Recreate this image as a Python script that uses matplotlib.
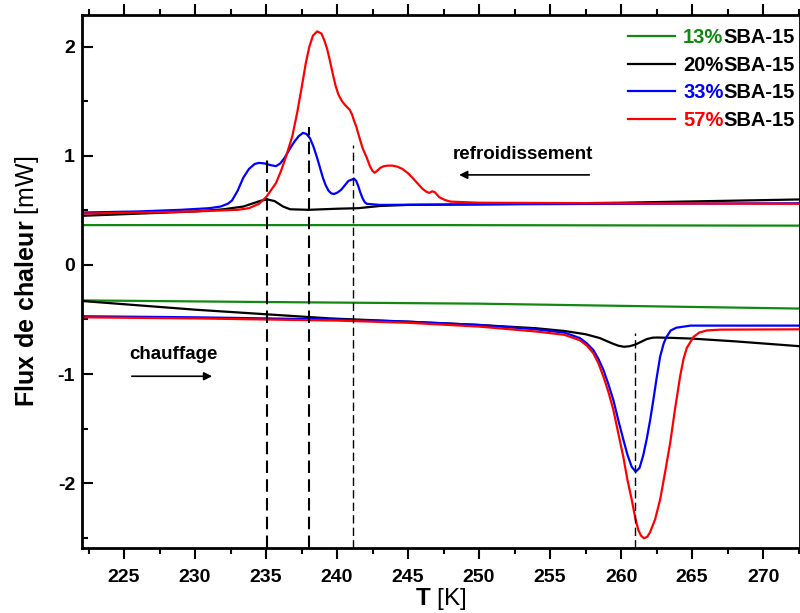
import matplotlib
matplotlib.use("Agg")
from matplotlib import pyplot as plt
from matplotlib.ticker import MultipleLocator

plt.rcParams['font.family'] = ['Liberation Sans', 'DejaVu Sans']
plt.rcParams['mathtext.fontset'] = 'custom'
plt.rcParams['mathtext.rm'] = 'Liberation Sans'
plt.rcParams['mathtext.bf'] = 'Liberation Sans:bold'
plt.rcParams['axes.unicode_minus'] = False

# cooling curves (upper branch)
t_g_cool = [222, 247, 272.6]
y_g_cool = [0.365, 0.365, 0.36]

t_k_cool = [222, 226, 230, 232, 233.4, 234.6, 235.1, 235.6, 236.2, 236.7, 238,
            240, 241.5, 243, 245, 250, 260, 272.6]
y_k_cool = [0.45, 0.47, 0.49, 0.51, 0.535, 0.587, 0.60, 0.585, 0.535, 0.51, 0.505,
            0.515, 0.52, 0.54, 0.55, 0.555, 0.57, 0.60]

t_b_cool = [222, 226, 229, 231, 231.8, 232.3, 232.6, 233.0, 233.4, 233.8, 234.2,
            234.5, 234.9, 235.3, 235.7, 236.0, 236.3, 236.7, 237.0, 237.3, 237.6,
            237.85, 238.1, 238.35, 238.6, 238.8, 239.0, 239.2, 239.4, 239.6,
            239.8, 240.05, 240.3, 240.55, 240.8, 241.0, 241.2, 241.35, 241.5,
            241.65, 241.8, 241.95, 242.1, 243, 250, 260, 272.6]
y_b_cool = [0.48, 0.49, 0.505, 0.52, 0.535, 0.56, 0.59, 0.68, 0.80, 0.88, 0.925,
            0.935, 0.93, 0.915, 0.905, 0.93, 0.98, 1.07, 1.13, 1.18, 1.21,
            1.20, 1.16, 1.08, 0.98, 0.89, 0.80, 0.73, 0.68, 0.655,
            0.65, 0.665, 0.69, 0.73, 0.77, 0.78, 0.79, 0.77, 0.72,
            0.66, 0.61, 0.575, 0.56, 0.55, 0.555, 0.56, 0.565]

t_r_cool = [222, 226, 230, 233, 233.8, 234.5, 235.0, 235.7, 236.05, 236.4, 236.85,
            237.2, 237.5, 237.8, 238.05, 238.3, 238.6, 238.9, 239.1, 239.3, 239.5,
            239.7, 239.9, 240.1, 240.35, 240.6, 240.9, 241.05, 241.2, 241.35,
            241.5, 241.8, 242.1, 242.3, 242.5, 242.65, 242.8, 243.05, 243.3,
            243.6, 243.9, 244.25, 244.6, 245.0, 245.3, 245.65, 246.0, 246.3,
            246.5, 246.7, 246.9, 247.2, 247.6, 248, 250, 260, 272.6]
y_r_cool = [0.47, 0.48, 0.49, 0.505, 0.52, 0.56, 0.62, 0.75, 0.86, 0.99, 1.18,
            1.40, 1.62, 1.85, 2.00, 2.10, 2.14, 2.12, 2.06, 1.98, 1.87,
            1.75, 1.64, 1.56, 1.50, 1.46, 1.42, 1.38, 1.32, 1.27,
            1.20, 1.07, 0.98, 0.91, 0.86, 0.845, 0.86, 0.89, 0.905,
            0.91, 0.91, 0.90, 0.88, 0.84, 0.80, 0.75, 0.70, 0.67,
            0.66, 0.675, 0.665, 0.62, 0.595, 0.58, 0.57, 0.565, 0.56]

# heating curves (lower branch)
t_g_heat = [222, 235, 250, 260, 272.6]
y_g_heat = [-0.325, -0.34, -0.355, -0.375, -0.40]

t_k_heat = [222, 230, 239.5, 245, 250, 254, 256, 257.5, 258.5, 259.3, 259.8,
            260.2, 260.6, 261, 261.4, 261.8, 262.2, 262.5, 263.5, 265, 268, 272.6]
y_k_heat = [-0.33, -0.41, -0.49, -0.52, -0.55, -0.58, -0.605, -0.635, -0.67,
            -0.715, -0.74, -0.75, -0.745, -0.73, -0.705, -0.68, -0.667, -0.665,
            -0.668, -0.675, -0.70, -0.745]

t_b_heat = [222, 230, 240, 245, 250, 254, 256, 257.1, 257.6, 258.05, 258.4,
            258.75, 259.1, 259.46, 259.8, 260.16, 260.45, 260.75, 261.03, 261.3,
            261.55, 261.8, 262.05, 262.27, 262.5, 262.75, 263.0, 263.2, 263.5,
            263.9, 264.9, 272.6]
y_b_heat = [-0.47, -0.48, -0.50, -0.52, -0.55, -0.59, -0.62, -0.67, -0.72,
            -0.78, -0.86, -0.96, -1.09, -1.24, -1.42, -1.60, -1.74, -1.85,
            -1.895, -1.86, -1.75, -1.60, -1.42, -1.24, -1.04, -0.84, -0.72,
            -0.66, -0.60, -0.575, -0.556, -0.556]

t_r_heat = [222, 230, 240, 245, 250, 254, 256, 257.1, 257.6, 258.05, 258.4,
            258.75, 259.1, 259.46, 259.8, 260.16, 260.45, 260.75, 261.0, 261.22,
            261.4, 261.62, 261.85, 262.04, 262.4, 262.75, 263.1, 263.46, 263.8,
            264.16, 264.4, 264.63, 265.1, 265.5, 266.05, 267.0, 272.6]
y_r_heat = [-0.48, -0.49, -0.51, -0.53, -0.565, -0.61, -0.64, -0.69, -0.74,
            -0.81, -0.90, -1.02, -1.16, -1.33, -1.54, -1.76, -1.97, -2.15,
            -2.32, -2.43, -2.48, -2.505, -2.49, -2.45, -2.33, -2.15, -1.90,
            -1.63, -1.32, -1.02, -0.86, -0.76, -0.66, -0.62, -0.60, -0.593, -0.59]

# transition markers: temperature, top of the dashed line
t_marks = [235.1, 238.0, 241.1, 261.0]
y_marks = [0.98, 1.26, 1.10, -0.62]
w_marks = [1.5, 1.5, 1.0, 1.0]

labels = ["13%", "20%", "33%", "57%"]
colors = ["#118811", "black", "#0000ff", "#ff0000"]

fig = plt.figure(figsize=(8, 6.13), dpi=100)
ax = fig.add_axes([0.1025, 0.106, 0.8975, 0.8695])

cool = [(t_g_cool, y_g_cool), (t_k_cool, y_k_cool), (t_b_cool, y_b_cool), (t_r_cool, y_r_cool)]
heat = [(t_g_heat, y_g_heat), (t_k_heat, y_k_heat), (t_b_heat, y_b_heat), (t_r_heat, y_r_heat)]
for (tc, yc), (th, yh), lab, col in zip(cool, heat, labels, colors):
    ax.plot(tc, yc, color=col, lw=1.6, label=lab)
    ax.plot(th, yh, color=col, lw=1.6)

ymin, ymax = -2.594, 2.29
for t, y, w in zip(t_marks, y_marks, w_marks):
    ax.vlines(t, ymin, y, colors='black', linestyles=(0, (6, 3)), lw=w)

ax.set_xlim(222.04, 272.6)
ax.set_ylim(ymin, ymax)
ax.xaxis.set_major_locator(MultipleLocator(5))
ax.xaxis.set_minor_locator(MultipleLocator(2.5))
ax.yaxis.set_major_locator(MultipleLocator(1))
ax.yaxis.set_minor_locator(MultipleLocator(0.5))
ax.tick_params(which='both', direction='out', width=1.5, labelsize=14)
ax.tick_params(which='major', length=8)
ax.tick_params(which='minor', length=4)
ax.tick_params(top=True, which='both', direction='in')
ax.tick_params(axis='x', which='both', bottom=True, direction='out', pad=7)
ax.tick_params(axis='y', pad=5)
for lbl in ax.get_xticklabels() + ax.get_yticklabels():
    lbl.set_fontweight('bold')
for s in ax.spines.values():
    s.set_linewidth(2)

ax.set_xlabel(r'$\mathbf{T}$ [K]', fontsize=17.5, labelpad=0)
ax.set_ylabel(r'$\mathbf{Flux\ de\ chaleur}$ [mW]', fontsize=18, labelpad=12)

# direction annotations
ax.annotate('', xy=(248.4, 0.825), xytext=(257.96, 0.825),
            arrowprops=dict(arrowstyle='-|>', color='black', lw=1.2, mutation_scale=12))
ax.text(253.1, 1.01, 'refroidissement', ha='center', va='center', fontsize=13.5, fontweight='bold')
ax.annotate('', xy=(231.4, -1.02), xytext=(225.35, -1.02),
            arrowprops=dict(arrowstyle='-|>', color='black', lw=1.2, mutation_scale=12))
ax.text(228.5, -0.825, 'chauffage', ha='center', va='center', fontsize=13.5, fontweight='bold')

leg = ax.legend(loc='upper left', bbox_to_anchor=(0.76, 0.975), frameon=False,
                borderaxespad=0, borderpad=0, handlelength=2.35, handletextpad=0.4,
                labelspacing=0.42, prop={'weight': 'bold', 'size': 14.5})
for txt, col in zip(leg.get_texts(), colors):
    txt.set_color(col)

fig.canvas.draw()
inv = fig.transFigure.inverted()
for txt in leg.get_texts():
    bb = txt.get_window_extent()
    x1, y0 = inv.transform((bb.x1, bb.y0))
    fig.text(x1, y0, 'SBA-15', ha='left', va='bottom',
             fontsize=14.5, fontweight='bold', color='black')

fig.savefig('out.png', dpi=100)
